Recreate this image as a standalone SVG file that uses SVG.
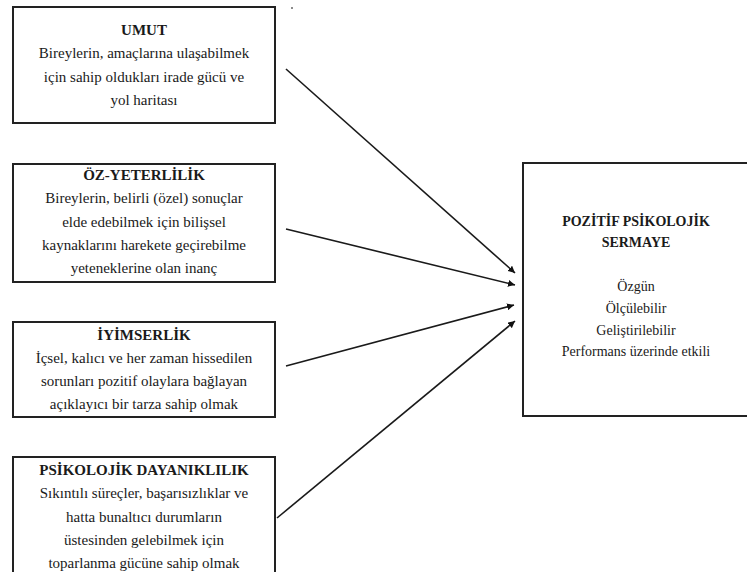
<svg xmlns="http://www.w3.org/2000/svg" width="747" height="572" viewBox="0 0 747 572">
<defs>
<marker id="ah" viewBox="0 0 10 10" refX="10" refY="5" markerWidth="7" markerHeight="7" markerUnits="userSpaceOnUse" orient="auto">
<path d="M0,0 L10,5 L0,10 z" fill="#111"/>
</marker>
</defs>
<rect width="747" height="572" fill="#fff"/>
<circle cx="292" cy="8" r="1" fill="#666"/>
<g fill="#fff" stroke="#222" stroke-width="2">
<rect x="13" y="7" width="262" height="116"/>
<rect x="13" y="164" width="262" height="118"/>
<rect x="13" y="322" width="262" height="95"/>
<rect x="13" y="457" width="262" height="130"/>
<rect x="523" y="163" width="240" height="253"/>
</g>
<g fill="#1a1a1a" text-anchor="middle">
<g id="umut">
<text font-family="Liberation Serif" font-size="15" font-weight="bold" x="144" y="35">UMUT</text>
<text font-family="Liberation Serif" font-size="15" x="144" y="58">Bireylerin, amaçlarına ulaşabilmek</text>
<text font-family="Liberation Serif" font-size="15" x="144" y="82">için sahip oldukları irade gücü ve</text>
<text font-family="Liberation Serif" font-size="15" x="144" y="105">yol haritası</text>
</g>
<g id="oz-yeterlilik">
<text font-family="Liberation Serif" font-size="15" font-weight="bold" x="144" y="180">ÖZ-YETERLİLİK</text>
<text font-family="Liberation Serif" font-size="15" x="144" y="203">Bireylerin, belirli (özel) sonuçlar</text>
<text font-family="Liberation Serif" font-size="15" x="144" y="227">elde edebilmek için bilişsel</text>
<text font-family="Liberation Serif" font-size="15" x="144" y="250">kaynaklarını harekete geçirebilme</text>
<text font-family="Liberation Serif" font-size="15" x="144" y="273">yeteneklerine olan inanç</text>
</g>
<g id="iyimserlik">
<text font-family="Liberation Serif" font-size="15" font-weight="bold" x="144" y="340">İYİMSERLİK</text>
<text font-family="Liberation Serif" font-size="15" x="144" y="363">İçsel, kalıcı ve her zaman hissedilen</text>
<text font-family="Liberation Serif" font-size="15" x="144" y="386">sorunları pozitif olaylara bağlayan</text>
<text font-family="Liberation Serif" font-size="15" x="144" y="409">açıklayıcı bir tarza sahip olmak</text>
</g>
<g id="dayaniklilik">
<text font-family="Liberation Serif" font-size="15" font-weight="bold" x="144" y="475">PSİKOLOJİK DAYANIKLILIK</text>
<text font-family="Liberation Serif" font-size="15" x="144" y="498">Sıkıntılı süreçler, başarısızlıklar ve</text>
<text font-family="Liberation Serif" font-size="15" x="144" y="522">hatta bunaltıcı durumların</text>
<text font-family="Liberation Serif" font-size="15" x="144" y="545">üstesinden gelebilmek için</text>
<text font-family="Liberation Serif" font-size="15" x="144" y="568">toparlanma gücüne sahip olmak</text>
</g>
<g id="pps">
<text font-family="Liberation Serif" font-size="14" font-weight="bold" x="636" y="226">POZİTİF PSİKOLOJİK</text>
<text font-family="Liberation Serif" font-size="14" font-weight="bold" x="636" y="247">SERMAYE</text>
<text font-family="Liberation Serif" font-size="14" x="636" y="291">Özgün</text>
<text font-family="Liberation Serif" font-size="14" x="636" y="313">Ölçülebilir</text>
<text font-family="Liberation Serif" font-size="14" x="636" y="335">Geliştirilebilir</text>
<text font-family="Liberation Serif" font-size="14" x="636" y="356">Performans üzerinde etkili</text>
</g>
</g>
<g id="connectors" stroke="#1a1a1a" stroke-width="1.6" fill="none" marker-end="url(#ah)">
<line x1="286" y1="69" x2="515" y2="273"/>
<line x1="286" y1="229" x2="515" y2="285"/>
<line x1="286" y1="366" x2="514" y2="305"/>
<line x1="277" y1="518" x2="515" y2="321"/>
</g>
</svg>
